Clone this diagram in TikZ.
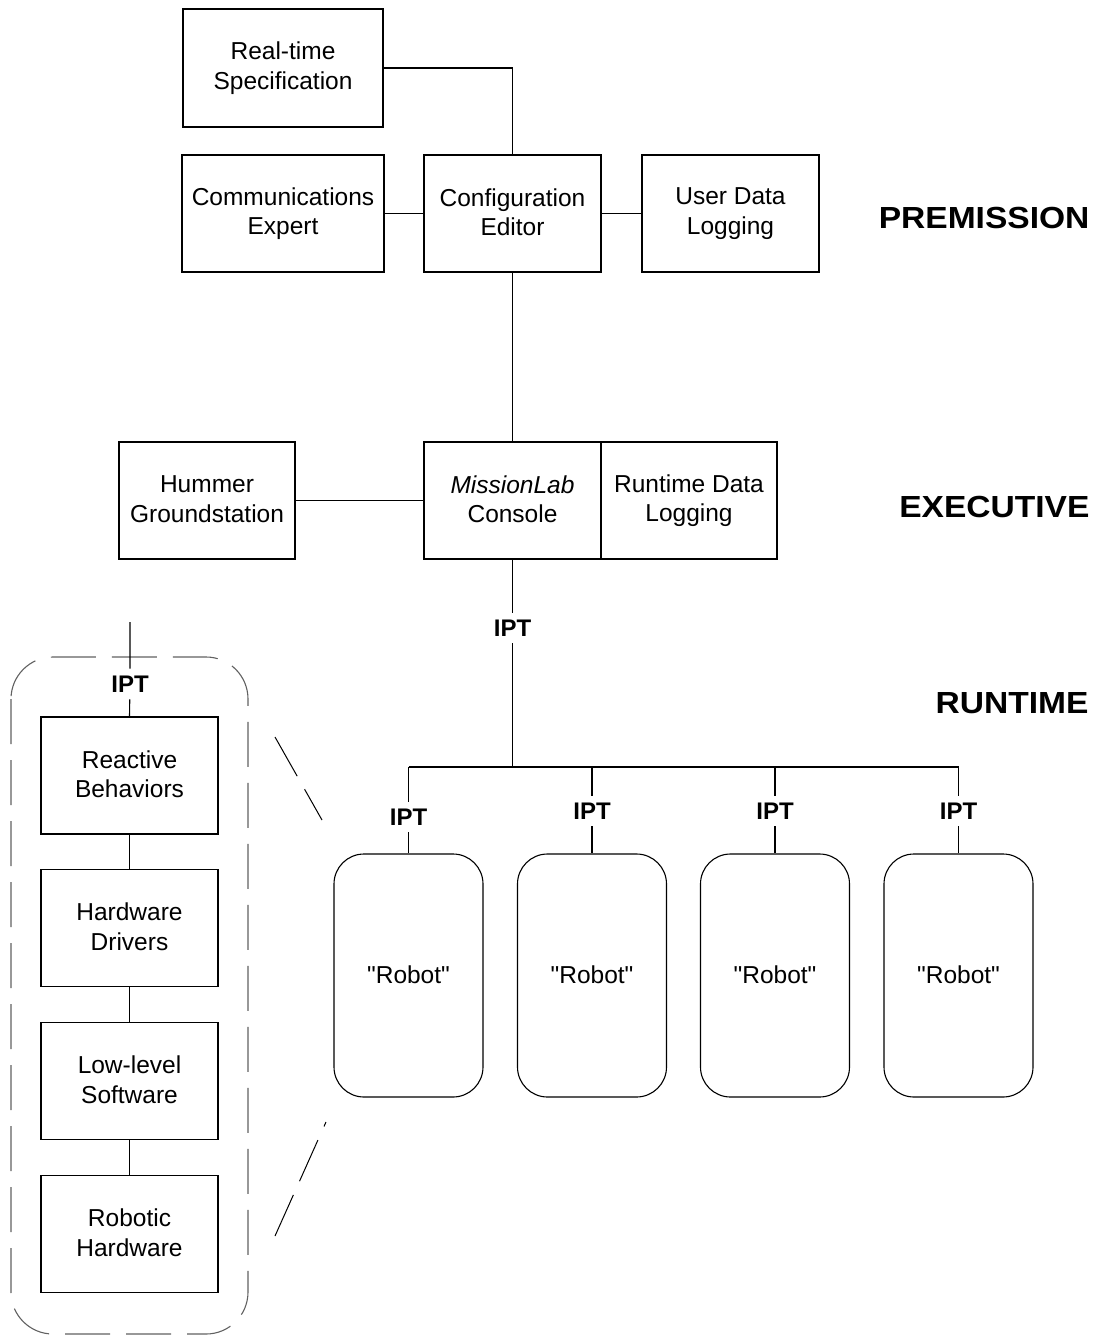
\documentclass[tikz,border=0pt]{standalone}
\usepackage{fontspec}
\usepackage{graphicx}
\setmainfont{Liberation Sans}
\newfontfamily\plainquotes{Liberation Sans}
\newcommand\boxstrut{\rule[-3pt]{0pt}{27pt}}
\newcommand\robstrut{\rule[-6pt]{0pt}{28pt}}
\begin{document}
\begin{tikzpicture}[x=1pt,y=-1pt,
  line width=1.1pt,
  txt/.style={font=\fontsize{24.5}{29.5}\selectfont, align=center,
    execute at begin node={\boxstrut}, execute at end node={\boxstrut}},
  box/.style={txt, draw, rectangle, minimum width=177pt, minimum height=117pt, inner sep=0pt},
  robot/.style={font=\fontsize{24.5}{29.5}\selectfont\plainquotes, align=center,
    execute at begin node={\robstrut},
    draw, rectangle, rounded corners=30pt, minimum width=149pt, minimum height=243pt, inner sep=0pt},
  ipt/.style={font=\fontsize{24}{28}\selectfont\bfseries, inner xsep=2pt, inner ysep=6.5pt},
  level/.style={font=\fontsize{30.5}{36}\selectfont\bfseries, anchor=east, inner sep=0pt},
  dashbox/.style={draw=black!62, dash pattern=on 45pt off 16pt, rounded corners=42pt},
  zoomline/.style={draw=black, line width=1pt, dash pattern=on 45pt off 15pt}
]
\useasboundingbox (0,0) rectangle (1095,1336);

% PREMISSION level
\node[box, minimum width=200pt, minimum height=118pt] (rts) at (283,68) {Real-time\\Specification};
\node[box, minimum width=202pt] (comm) at (283,213.5) {Communications\\Expert};
\node[box] (conf) at (512.5,213.5) {Configuration\\Editor};
\node[box] (udl) at (730.5,213.5) {User Data\\Logging};

% EXECUTIVE level
\node[box, minimum width=176pt] (hum) at (207,500.5) {Hummer\\Groundstation};
\node[box] (mlc) at (512.5,500.5) {\textit{MissionLab}\\Console};
\node[box, minimum width=176pt] (rdl) at (689,500.5) {Runtime Data\\Logging};

% level labels
\node[level] (lp) at (1090,218) {\scalebox{1.1}[1]{PREMISSION}};
\node[level] (le) at (1090,507) {\scalebox{1.1}[1]{EXECUTIVE}};
\node[level] (lr) at (1089,703) {\scalebox{1.1}[1]{RUNTIME}};

% connectors, premission/executive
\draw (rts.east) -| (conf.north);
\draw (comm.east) -- (conf.west);
\draw (conf.east) -- (udl.west);
\draw (conf.south) -- (mlc.north);
\draw (hum.east) -- (mlc.west);

% runtime bus
\node[ipt] (ipt0) at (512.5,628) {IPT};
\coordinate (busm) at (512.5,767);
\coordinate (bus1) at (408.5,767);
\coordinate (bus2) at (592,767);
\coordinate (bus3) at (775,767);
\coordinate (bus4) at (958.5,767);
\draw (mlc.south) -- (ipt0) -- (busm);
\draw (bus1) -- (bus4);

\node[robot] (r1) at (408.5,975.5) {"Robot"};
\node[robot] (r2) at (592,975.5) {"Robot"};
\node[robot] (r3) at (775,975.5) {"Robot"};
\node[robot] (r4) at (958.5,975.5) {"Robot"};

\node[ipt] (ip1) at (408.5,817) {IPT};
\node[ipt] (ip2) at (592,811) {IPT};
\node[ipt] (ip3) at (775,811) {IPT};
\node[ipt] (ip4) at (958.5,811) {IPT};
\draw (bus1) -- (ip1) -- (r1.north);
\draw (bus2) -- (ip2) -- (r2.north);
\draw (bus3) -- (ip3) -- (r3.north);
\draw (bus4) -- (ip4) -- (r4.north);

% expanded robot
\draw[dashbox] (11,657) rectangle (248,1334);
\node[box] (rb) at (129.5,775.5) {Reactive\\Behaviors};
\node[box] (hd) at (129.5,928) {Hardware\\Drivers};
\node[box] (ls) at (129.5,1081) {Low-level\\Software};
\node[box] (rh) at (129.5,1234) {Robotic\\Hardware};
\coordinate (ltop) at (130,622);
\node[ipt] (ip5) at (130,684) {IPT};
\draw (ltop) -- (ip5) -- (rb.north);
\draw (rb) -- (hd);
\draw (hd) -- (ls);
\draw (ls) -- (rh);

% zoom lines
\coordinate (z1a) at (275,737);
\coordinate (z1b) at (322,820);
\coordinate (z2a) at (275,1236);
\coordinate (z2b) at (326,1122);
\draw[zoomline] (z1a) -- (z1b);
\draw[zoomline] (z2a) -- (z2b);
\end{tikzpicture}
\end{document}
